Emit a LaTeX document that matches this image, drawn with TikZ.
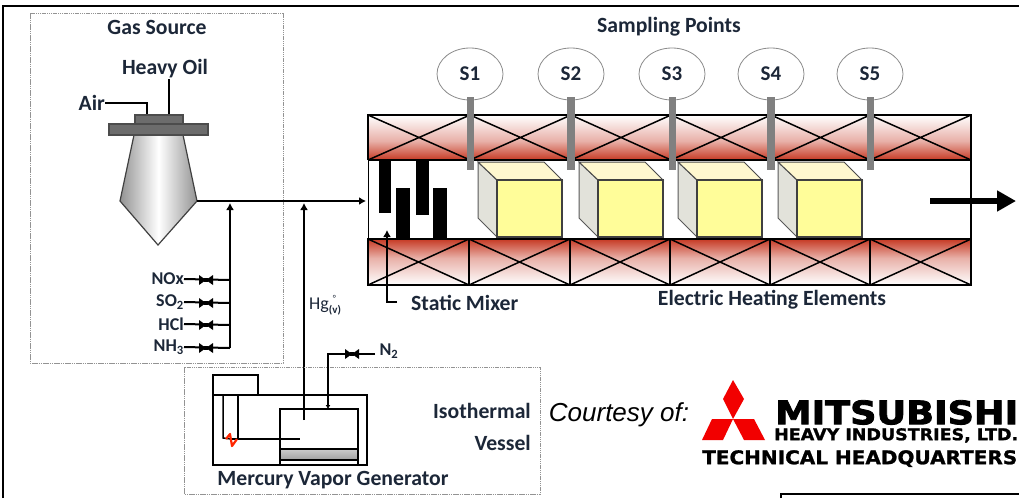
\documentclass[tikz,border=0pt]{standalone}
\usepackage{fontspec}
\setmainfont{Carlito}
\newfontfamily\ariali{Liberation Sans}
\newfontfamily\logofont[FakeBold=2.5]{DejaVu Sans}
\newfontfamily\logofontb[FakeBold=1.2]{DejaVu Sans}
\usetikzlibrary{arrows.meta,shapes.geometric}
\definecolor{txt}{HTML}{1C2738}
\definecolor{bandred}{HTML}{C63A24}
\definecolor{bandpink}{HTML}{E8B0A8}
\definecolor{cubefront}{HTML}{FFFD99}
\definecolor{cubetop}{HTML}{FFF8CF}
\definecolor{cubeside}{HTML}{E2E2DA}
\definecolor{tubegray}{HTML}{808080}
\tikzset{
 x=1pt,y=-1pt,
 lbl/.style={font=\fontsize{21.7}{24}\selectfont\bfseries,text=txt,inner sep=0pt},
 slbl/.style={font=\fontsize{18}{20}\selectfont\bfseries,text=txt,inner sep=0pt},
 pipe/.style={draw=black,line width=2pt},
 tipline/.style={pipe,-{Latex[length=7pt,width=8pt]}},
 dashbox/.style={draw=gray!85,line width=0.9pt,dash pattern=on 1.5pt off 0.7pt},
 sample/.style={draw=gray!90,line width=0.8pt,fill=white,ellipse,minimum width=66pt,minimum height=52pt,inner sep=0pt,font=\fontsize{21}{23}\selectfont\bfseries,text=txt},
 cellline/.style={draw=black,line width=1.5pt},
 bar/.style={fill=black,draw=none},
}
\newcommand{\valve}[2]{\fill[black] (#1-7,#2-5) -- (#1+7,#2+5) -- (#1+7,#2-5) -- (#1-7,#2+5) -- cycle;\fill[black] (#1-2,#2-2) rectangle (#1+2,#2+2);}
\newcommand{\cube}[1]{
 \begin{scope}[shift={(#1,0)}]
 \filldraw[fill=cubeside,draw=gray!70!black,line width=1pt] (478,162) -- (497,180) -- (497,237) -- (478,218) -- cycle;
 \filldraw[fill=cubetop,draw=black!70,line width=1pt] (478,162) -- (544,162) -- (562,180) -- (497,180) -- cycle;
 \filldraw[fill=cubefront,draw=black!75,line width=1.3pt] (497,180) rectangle (562,237);
 \end{scope}}
\begin{document}
\begin{tikzpicture}
\useasboundingbox (0,0) rectangle (1019,498);
\fill[white] (0,0) rectangle (1019,498);
% frame
\draw[black,line width=2.4pt] (3,498) -- (3,6) -- (1019,6);
\draw[black,line width=1.8pt] (781,498) -- (781,494) -- (1019,494);
% gas source
\draw[dashbox] (30,13) rectangle (283,363);
\node[lbl] (gassrc) at (157,27) {Gas Source};
\node[lbl] (oil) at (165,69) {Heavy Oil};
\node[lbl,anchor=east] (air) at (105,103) {Air};
% burner
\coordinate (airin) at (147,115);
\coordinate (oilin) at (169,115);
\draw[pipe] (air.east) -- (147,103) -- (airin);
\draw[pipe] (169,79) -- (oilin);
\shadedraw[left color=gray!85,right color=gray!85,middle color=white,draw=black!75,line width=1.2pt]
  (134,135) -- (183,135) -- (197,201) -- (158,245) -- (120,201) -- cycle;
\filldraw[fill=gray!85!black,draw=black!70,line width=1.2pt] (135,115) rectangle (183,124);
\filldraw[fill=gray!85!black,draw=black!70,line width=1.2pt] (109,124) rectangle (208,135);
\coordinate (burnout) at (197,201);
\coordinate (inlet) at (366,201);
\draw[tipline] (burnout) -- (inlet);
% reagent lines
\coordinate (j1) at (230,203);
\coordinate (j2) at (304,203);
\draw[tipline] (230,348) -- (j1);
\foreach \yy/\nm/\txt in {280/nox/NOx,303/so/SO\textsubscript{2},325/hcl/HCl,348/nh/NH\textsubscript{3}}{
  \node[slbl,anchor=east] (\nm) at (184,\yy-1) {\txt};
  \draw[pipe] (\nm.east) -- (230,\yy);
  \valve{206}{\yy}
}
% Hg line
\draw[tipline] (304,420) -- (j2);
\node[inner sep=0pt,font=\fontsize{18}{20}\selectfont,text=txt,anchor=west] (hg) at (309,305) {Hg\raisebox{-4pt}{\rlap{\raisebox{12pt}{\fontsize{9}{9}\selectfont\ \ °}}\fontsize{11}{11}\selectfont\bfseries(v)}};
% vapor generator
\draw[dashbox] (184,367) rectangle (540,494);
\draw[cellline] (213,395) rectangle (367,465);
\draw[cellline] (213,375) rectangle (258,395);
\shade[top color=gray!40,bottom color=gray!75] (280,449) rectangle (358,460);
\draw[black,line width=2pt] (280,409) rectangle (358,465);
\draw[black,line width=2pt] (280,449) -- (358,449);
\draw[black,line width=1.5pt] (280,460) -- (358,460);
\draw[cellline] (223,395) -- (223,438) -- (231,439);
\draw[cellline] (238,395) -- (238,439);
\draw[cellline] (231,439) -- (300,439);
\draw[draw=red!70!orange,line width=2.2pt,line join=round] (226,439) -- (230,434) -- (232,446) -- (237,439);
\node[slbl] (n2) at (389,351) {N\textsubscript{2}};
\coordinate (n2in) at (328,409);
\coordinate (n2start) at (375,354);
\draw[pipe,-{Latex[length=4pt,width=5pt]}] (n2start) -- (328,354) -- (n2in);
\valve{352}{354}
\node[lbl,anchor=east] (iso) at (531,411) {Isothermal};
\node[lbl,anchor=east] (ves) at (531,443) {Vessel};
\node[lbl] (mvg) at (333,480) {Mercury Vapor Generator};
% furnace bands
\shade[top color=white,bottom color=bandpink] (368,115) rectangle (971,141);
\shade[top color=bandpink,bottom color=bandred] (368,141) rectangle (971,160);
\shade[top color=bandred,bottom color=bandpink] (368,239) rectangle (971,258);
\shade[top color=bandpink,bottom color=white] (368,258) rectangle (971,285);
\foreach \a/\b in {368/470,470/571,571/671,671/771,771/870,870/971}{
  \draw[cellline] (\a,115) -- (\b,160) (\a,160) -- (\b,115);
}
\foreach \a/\b in {368/469,469/570,570/670,670/770,770/870,870/971}{
  \draw[cellline] (\a,239) rectangle (\b,285);
  \draw[cellline] (\a,239) -- (\b,285) (\a,285) -- (\b,239);
}
\draw[black,line width=2pt] (368,160) -- (368,115) -- (971,115) -- (971,285) -- (368,285) -- (368,239);
\draw[black,line width=2pt] (368,160) -- (971,160);
\draw[black,line width=0.5pt] (368,160) -- (368,239);
% mixer
\fill[bar] (379,160) rectangle (391,213);
\fill[bar] (396,188) rectangle (410,239);
\fill[bar] (416,160) rectangle (429,215);
\fill[bar] (433,188) rectangle (447,239);
% cubes
\cube{0}\cube{101}\cube{200}\cube{300}
% sampling
\node[lbl] (sp) at (669,27) {Sampling Points};
\foreach \xx/\w/\n in {470/7/1,571/8/2,672/7/3,771/8/4,870/7/5}{
  \node[sample] (s\n) at (\xx,74) {S\n};
  \fill[tubegray] (\xx-\w/2,97) rectangle (\xx+\w/2,170);
}
% static mixer label
\node[lbl,anchor=west] (sm) at (411,303) {Static Mixer};
\coordinate (smtip) at (387,230);
\draw[tipline] (397,302) -- (387,302) -- (smtip);
\node[lbl] (ehe) at (772,300) {Electric Heating Elements};
% exit arrow
\coordinate (exita) at (930,201);
\coordinate (exitb) at (1016,201);
\draw[black,line width=6pt,-{Triangle[length=19pt,width=20pt]}] (exita) -- (exitb);
% courtesy + logo
\node[font=\ariali\itshape\fontsize{26}{28}\selectfont,inner sep=0pt,text=black] (court) at (619,415) {Courtesy of:};
\fill[red!95!black] (733,380) -- (744,399) -- (733,419) -- (723,399) -- cycle;
\fill[red!95!black] (712,419) -- (733,419) -- (723,440) -- (702,440) -- cycle;
\fill[red!95!black] (733,419) -- (754,419) -- (765,440) -- (744,440) -- cycle;
\node[inner sep=0pt,anchor=north west] (mits) at (775,400) {\resizebox{243pt}{24pt}{\logofont\bfseries MITSUBISHI}};
\node[inner sep=0pt,anchor=north west] (hvy) at (774,428) {\resizebox{244pt}{12pt}{\logofontb\bfseries HEAVY INDUSTRIES, LTD.}};
\node[inner sep=0pt,anchor=north west] (tech) at (702,450) {\resizebox{315pt}{14pt}{\logofontb\bfseries TECHNICAL HEADQUARTERS}};
\end{tikzpicture}
\end{document}
